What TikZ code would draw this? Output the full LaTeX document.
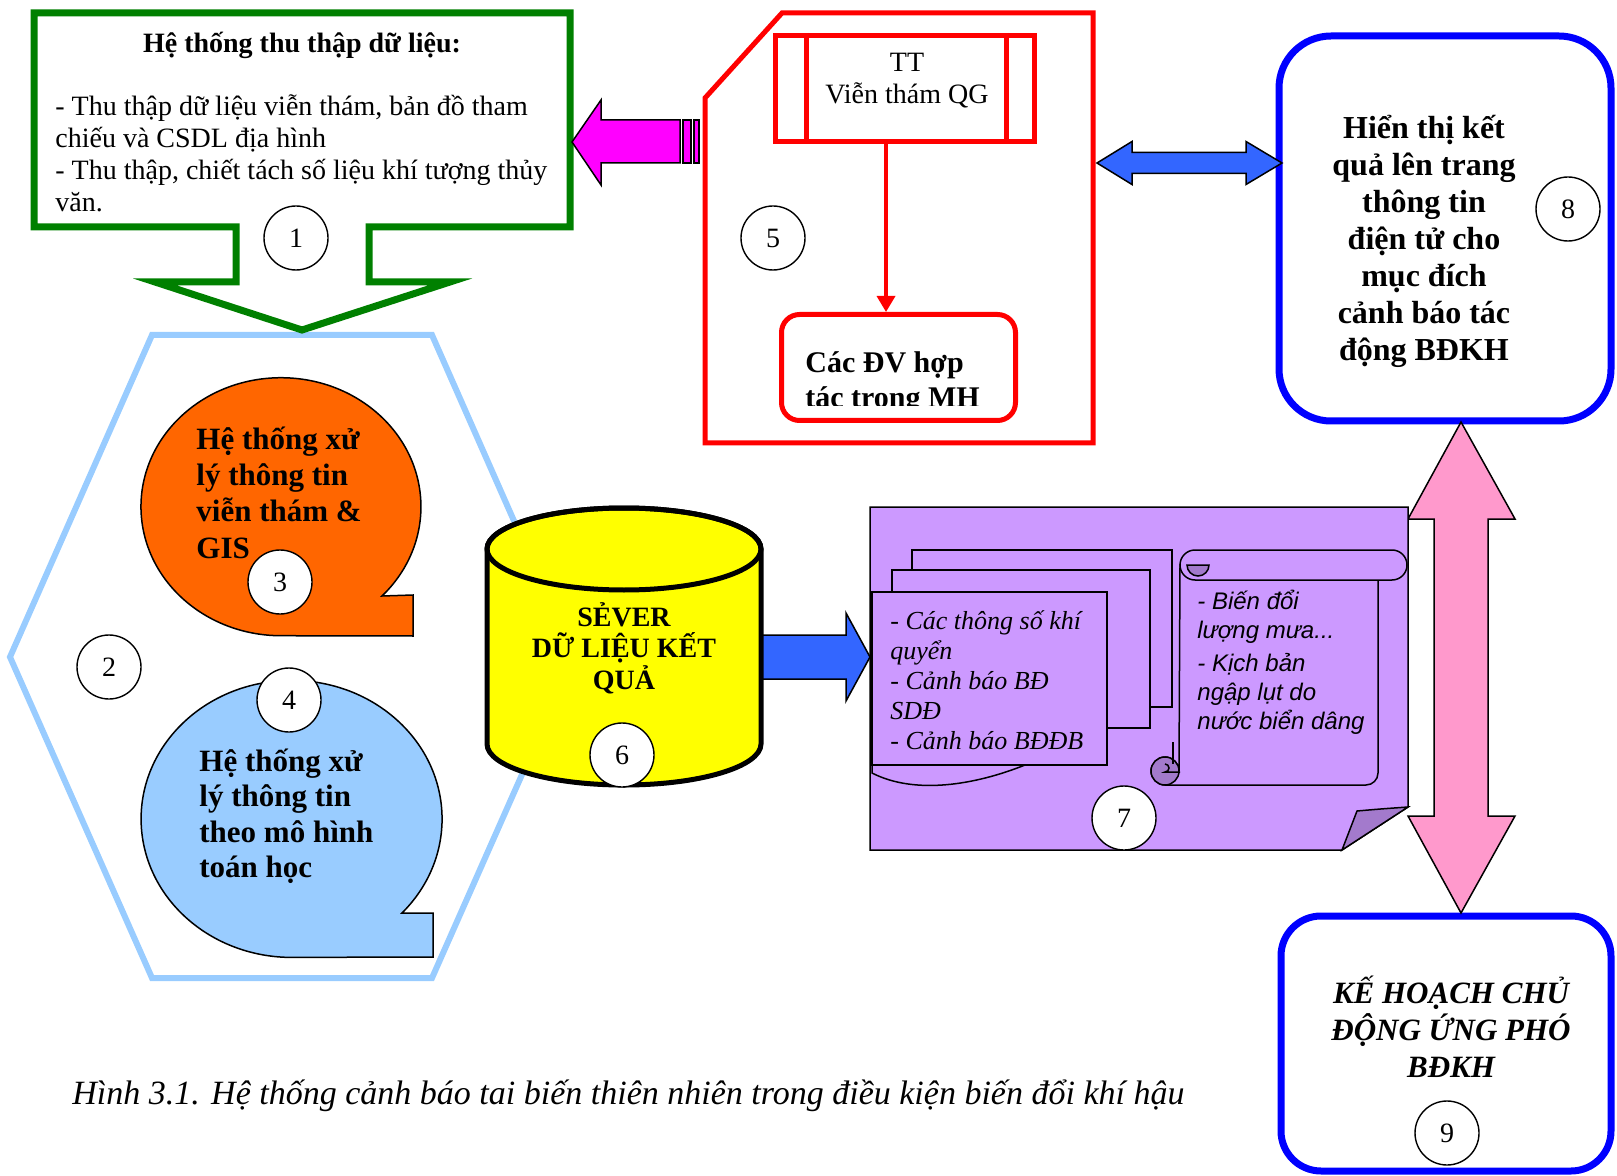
\documentclass[tikz,border=0pt]{standalone}
\usepackage{fontspec}
\setmainfont{Liberation Serif}
\newfontfamily\arialfont{Liberation Sans}
\usetikzlibrary{arrows.meta,positioning,calc}

\definecolor{calloutgreen}{RGB}{0,128,0}
\definecolor{stripemagenta}{RGB}{255,0,255}
\definecolor{boxred}{RGB}{255,0,0}
\definecolor{boxblue}{RGB}{0,0,255}
\definecolor{arrowblue}{RGB}{51,102,255}
\definecolor{hexblue}{RGB}{153,204,255}
\definecolor{bubbleorange}{RGB}{255,102,0}
\definecolor{bubbleblue}{RGB}{153,204,255}
\definecolor{serveryellow}{RGB}{255,255,0}
\definecolor{docpurple}{RGB}{204,153,255}
\definecolor{folddark}{RGB}{163,122,204}
\definecolor{arrowpink}{RGB}{255,153,204}

\begin{document}
\begin{tikzpicture}[x=0.5pt, y=-0.5pt,
  num/.style={draw, circle, fill=white, line width=0.7pt, minimum size=32pt, inner sep=0pt, font=\fontsize{14}{16}\selectfont},
  txt/.style={inner sep=0pt, align=left, anchor=base west},
  outline/.style={draw=black, line width=0.75pt},
  redline/.style={draw=boxred, line width=2.5pt},
  bluebox/.style={draw=boxblue, line width=3.5pt, fill=white, rectangle},
  redarrow/.style={-{Triangle[length=8pt,width=9pt]}, boxred, line width=1.75pt}
]
\useasboundingbox (0,0) rectangle (1617,1176);

% processing block (hexagon with two bubbles)
\draw[hexblue, line width=3pt] (152,335) -- (432,335) -- (574,657) -- (432,978) -- (152,978) -- (10,657) -- cycle;
\draw[outline, fill=bubbleorange] (382,596) arc[start angle=43.8, end angle=-270, x radius=140, y radius=129] -- (413,636) -- (413,595) -- cycle;
\draw[outline, fill=bubbleblue] (402,913) arc[start angle=42.8, end angle=-270, x radius=150.5, y radius=138.5] -- (433,957) -- (433,913) -- cycle;
% multi-line texts: base = baseline of the last line
\node[txt, font=\bfseries\fontsize{15.5}{18.25}\selectfont] (rstext) at (196,558.5) {Hệ thống xử\\lý thông tin\\viễn thám \&\\GIS};
\node[txt, font=\bfseries\fontsize{15.5}{17.75}\selectfont] (modeltext) at (199,877.5) {Hệ thống xử\\lý thông tin\\theo mô hình\\toán học};
\node[num] (n2) at (109,667) {2};
\node[num] (n3) at (280,582) {3};
\node[num] (n4) at (289,700) {4};

% data collection callout
\draw[calloutgreen, line width=3.5pt, fill=white] (34,13) -- (570,13) -- (570,227) -- (369,227) -- (369,282) -- (450,282) -- (302,330) -- (155,282) -- (236,282) -- (236,227) -- (34,227) -- cycle;
\node[txt, anchor=base, font=\bfseries\fontsize{14}{16}\selectfont] (collecttitle) at (302,53) {Hệ thống thu thập dữ liệu:};
\node[txt, font=\fontsize{14}{16}\selectfont] (collecttext) at (55,212) {- Thu thập dữ liệu viễn thám, bản đồ tham\\chiếu và CSDL địa hình\\- Thu thập, chiết tách số liệu khí tượng thủy\\văn.};
\node[num] (n1) at (296,238) {1};

% striped arrow into the callout
\draw[outline, fill=stripemagenta] (572,142) -- (601,100) -- (601,120) -- (680,120) -- (680,163) -- (601,163) -- (601,185) -- cycle;
\draw[outline, fill=stripemagenta] (683,120) rectangle (691,163);
\draw[outline, fill=stripemagenta] (694,120) rectangle (699,163);

% remote sensing centre
\draw[redline, fill=white] (782,13) -- (1093,13) -- (1093,443) -- (705,443) -- (705,98) -- cycle;
\node[redline, rectangle, minimum width=129.5pt, minimum height=53pt, inner sep=0pt] (tt) at (905,88.5) {};
\draw[redline] ([xshift=16.5pt]tt.north west) -- ([xshift=16.5pt]tt.south west);
\draw[redline] ([xshift=-15.5pt]tt.north east) -- ([xshift=-15.5pt]tt.south east);
\node[txt, align=center, anchor=base, font=\fontsize{14}{16}\selectfont] (ttlabel) at (907,104) {TT\\Viễn thám QG};
\node[redline, rectangle, rounded corners=9pt, minimum width=117pt, minimum height=53pt] (partners) at (898.5,367.5) {};
\begin{scope}
  \clip (782,317) rectangle (1015,406);
  \node[txt, font=\bfseries\fontsize{15}{17.5}\selectfont] (partnerstext) at (805,408) {Các ĐV hợp\\tác trong MH};
\end{scope}
\draw[redarrow] ([xshift=-9.5pt]tt.south) -- ([xshift=-9.5pt]tt.south |- partners.north);
\node[num] (n5) at (773,238) {5};

% web display and response plan
\node[bluebox, rounded corners=26pt, minimum width=166pt, minimum height=192.5pt] (display) at (1445,228.5) {};
\node[txt, align=center, anchor=base, font=\bfseries\fontsize{16}{18.5}\selectfont] (displaytext) at (1424,361) {Hiển thị kết\\quả lên trang\\thông tin\\điện tử cho\\mục đích\\cảnh báo tác\\động BĐKH};
\node[num] (n8) at (1568,209) {8};
\node[bluebox, rounded corners=20pt, minimum width=165pt, minimum height=127.5pt] (plan) at (1446,1043.5) {};
\node[txt, align=center, anchor=base, font=\bfseries\itshape\fontsize{15.5}{18.5}\selectfont] (plantext) at (1451,1077) {KẾ HOẠCH CHỦ\\ĐỘNG ỨNG PHÓ\\BĐKH};
\node[num] (n9) at (1447,1133) {9};

\draw[outline, fill=arrowblue] (1097,163) -- (1132,141.5) -- (1132,152.5) -- (1246,152.5) -- (1246,141.5) -- (1282,163) -- (1246,184.5) -- (1246,173.5) -- (1132,173.5) -- (1132,184.5) -- cycle;
\draw[outline, fill=arrowpink] (1461,422) -- (1515,519) -- (1488,519) -- (1488,816) -- (1515,816) -- (1461,913) -- (1408,816) -- (1434,816) -- (1434,519) -- (1408,519) -- cycle;

% result server
\draw[outline, fill=arrowblue] (740,635) -- (846,635) -- (846,613) -- (870,657) -- (846,701) -- (846,679) -- (740,679) -- cycle;
\draw[line width=2.5pt, fill=serveryellow] (487,549) -- (487,744) arc[start angle=180, end angle=0, x radius=137, y radius=41] -- (761,549) arc[start angle=0, end angle=-180, x radius=137, y radius=41] -- cycle;
\draw[line width=2.5pt] (624,549) ellipse[x radius=137, y radius=41];
\node[txt, align=center, anchor=base, font=\bfseries\fontsize{14}{15.75}\selectfont] (servertext) at (624,689) {SẺVER\\DỮ LIỆU KẾT\\QUẢ};
\node[num] (n6) at (622,755) {6};

% warning products
\draw[outline, fill=docpurple] (870,507) -- (1408,507) -- (1408,807) -- (1342,850) -- (870,850) -- cycle;
\draw[outline, fill=folddark] (1342,850) -- (1357,811) .. controls (1380,809) .. (1408,807) -- cycle;
\draw[outline, fill=docpurple] (912,550) rectangle (1172,707);
\draw[outline, fill=docpurple] (892,570) rectangle (1150,728);
\draw[outline, fill=docpurple] (872,765) -- (872,773) .. controls (915,795) and (975,785) .. (1025,765);
\draw[outline, fill=docpurple] (872,592) rectangle (1107,765);
\node[txt, font=\itshape\fontsize{13}{15}\selectfont] (sheettext) at (890,749) {- Các thông số khí\\quyển\\- Cảnh báo BĐ\\SDĐ\\- Cảnh báo BĐĐB};

\draw[outline, fill=docpurple] (1378,575) -- (1378,773) arc[start angle=0, end angle=90, radius=12] -- (1165,785) arc[start angle=90, end angle=360, radius=14] -- (1180,565) -- cycle;
\draw[outline, fill=folddark] (1165,771) circle[radius=14];
\draw[outline] (1165,764) arc[start angle=-90, end angle=90, radius=4] -- (1180,772);
\draw[outline] (1173,742) -- (1173,764);
\draw[outline, fill=docpurple] (1195,550) -- (1392,550) arc[start angle=-90, end angle=90, radius=15] -- (1195,580) arc[start angle=90, end angle=270, radius=15] -- cycle;
\draw[outline, fill=folddark] (1187,565) arc[start angle=180, end angle=0, radius=11] -- cycle;
\node[txt, font=\arialfont\itshape\fontsize{12}{14.5}\selectfont] (scrolltext) at (1197,729) {- Biến đổi\\lượng mưa...\\[2pt]- Kịch bản\\ngập lụt do\\nước biển dâng};
\node[num] (n7) at (1124,818) {7};

% caption
\node[txt, font=\itshape\fontsize{17}{20}\selectfont] (caption) at (72,1104) {Hình 3.1. Hệ thống cảnh báo tai biến thiên nhiên trong điều kiện biến đổi khí hậu};
\end{tikzpicture}
\end{document}
